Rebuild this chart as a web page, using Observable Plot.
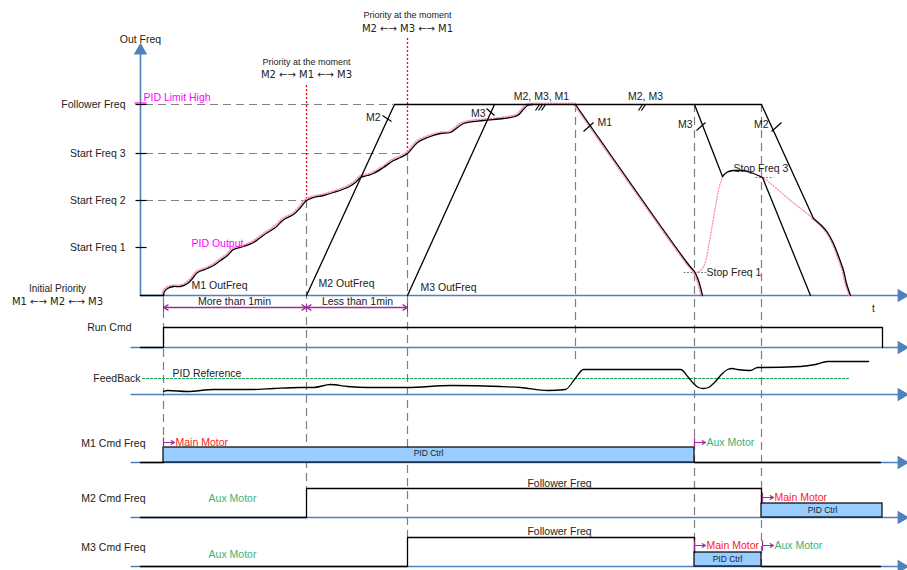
<!DOCTYPE html>
<html><head><meta charset="utf-8">
<script src="https://cdn.jsdelivr.net/npm/d3@7"></script>
<script src="https://cdn.jsdelivr.net/npm/@observablehq/plot@0.6"></script>
<style>body{margin:0;background:#fff}svg{display:block}</style>
</head><body><div id="chart"></div>
<script>
// ---- Data (time t on x, level on y; y grows downward as in the drawing) ----
const freqTickLabels = ["Follower Freq", "Start Freq 3", "Start Freq 2", "Start Freq 1"];
const freqTickValues = [104, 153, 200, 247];
const eventTimes = [163, 306, 407, 575, 694, 761];
const eventTop = [297, 200, 153, 104, 104, 104];
const eventBottom = [440, 488, 537, 362, 566, 566];
const refFreqLevels = [104, 153, 200];
const refFreqEnds = [393, 407, 306];
const laneBaselines = [347, 394, 462, 517, 566];
const laneLabels = ["Run Cmd", "FeedBack", "M1 Cmd Freq", "M2 Cmd Freq", "M3 Cmd Freq"];
const laneLabelY = [327, 378, 443, 498, 547];
const laneLabelX = [131, 140, 145, 145, 145];

// PID output = M1 OutFreq during accel
const pidRise = [[163,295],[164,291],[167,288],[173,286],[180,286],[187,283],[192,278],[197,272],[207,268],[213,265],[220,260],[227,255],[233,249],[243,246],[253,242],[260,237],[267,232],[275,227],[280,222],[285,218],[293,214],[300,207],[306,200],[313,197],[323,195],[333,192],[347,187],[355,182],[360,177],[367,175],[373,173],[383,167],[393,160],[400,157],[407,153],[417,142],[427,137],[440,133],[450,132],[463,123],[483,120],[503,118],[517,115],[522,110],[527,105],[532,104]];
const m1Decel = [[575,104],[688,264],[694,271],[698,280],[702,295]];
const pidAfterStop = [[695,272],[700,270],[704,264],[710,235],[716,200],[720,182],[724,174],[733,170],[750,172],[762,177],[790,200],[813,218]];
const m2Ramp = [[306,295],[394,104]];
const m3Ramp = [[407,295],[494,104]];
const topFlat = [[394,104],[761,104]];
const m3Decel = [[694,104],[722,176]];
const m3Hump = [[722,176],[726,172],[733,170],[742,170],[750,172],[762,177]];
const m3Final = [[762,177],[810,295]];
const m2Decel = [[761,104],[813,218]];
const m2Tail = [[813,218],[822,226],[827,232],[833,243],[837,253],[843,270],[846,283],[850,295]];
const slashes = [[382,115,391,121],[486,108,494,115],[583,131,593,122],[696,130,705,122],[771,131,781,122],
  [535,110,539,104],[538,110,542,104],[541,110,545,104],[638,110,642,104],[641,110,645,104]];

const runCmd = [[140,347],[163,347],[163,327],[882,327],[882,347]];
const feedback = [[163,391],[167,390],[187,391],[213,389],[233,389],[253,389],[273,388],[300,387],[313,387],[330,384],[347,386],[367,387],[407,387],[450,385],[500,386],[520,387],[547,390],[565,389],[574,379],[583,369],[680,369],[688,377],[693,383],[698,387],[703,388],[708,387],[714,382],[721,374],[727,369],[732,368],[737,369],[750,370],[757,367],[762,367],[800,366],[815,364],[827,361],[868,361]];
const pidReference = [[142,378],[850,378]];
const m1Low = [[[140,462],[163,462]],[[694,462],[880,462]]];
const m2Cmd = [[140,517],[306,517],[306,488],[761,488],[761,503]];
const m3Cmd = [[140,566],[407,566],[407,537],[694,537],[694,552]];
const m3Low = [[761,566],[880,566]];
const pidRects = [{t1:163,t2:694,v1:447,v2:462,cx:428,cy:453},{t1:761,t2:882,v1:503,v2:517,cx:822,cy:510},{t1:694,t2:761,v1:552,v2:566,cx:727,cy:559}];
const motorMarks = [[163,442,"Main Motor"],[694,442,"Aux Motor"],[762,497,"Main Motor"],[694,545,"Main Motor"],[762,545,"Aux Motor"]];
const durationArrows = [[234,163],[234,306],[356,306],[356,407]];
const durationLabels = [["More than 1min",234],["Less than 1min",357]];

// labels: [text, x, y, anchor, size, color]
const textLabels = [
  ["Out Freq",140,39,"middle",10.5,"#222"],
  ["PID Limit High",143,97,"start",10.5,"#ff00ff"],
  ["PID Output",191,243,"start",10.5,"#ff00ff"],
  ["M1 OutFreq",191,285,"start",10.5,"#222"],
  ["M2 OutFreq",318,283,"start",10.5,"#222"],
  ["M3 OutFreq",420,287,"start",10.5,"#222"],
  ["Initial Priority",57,288,"middle",10,"#222"],
  ["Priority at the moment",306,62,"middle",9,"#222"],
  ["Priority at the moment",407,15,"middle",9,"#222"],
  ["M2, M3, M1",541,96,"middle",10.5,"#222"],
  ["M2, M3",645,96,"middle",10.5,"#222"],
  ["M2",380,117,"end",10.5,"#222"],
  ["M3",485,113,"end",10.5,"#222"],
  ["M1",597,122,"start",10.5,"#222"],
  ["M3",692,124,"end",10.5,"#222"],
  ["M2",768,124,"end",10.5,"#222"],
  ["Stop Freq 3",733,168,"start",10.5,"#222"],
  ["Stop Freq 1",706,272,"start",10.5,"#222"],
  ["t",873,308,"middle",10,"#222"],
  ["PID Reference",172,373,"start",10.5,"#222"],
  ["Follower Freq",559,483,"middle",10.5,"#222"],
  ["Follower Freq",559,531,"middle",10.5,"#222"],
  ["Aux Motor",232,498,"middle",10.5,"#3cb371"],
  ["Aux Motor",232,554,"middle",10.5,"#3cb371"]
];
const priorityOrders = [["M1 ←→ M2 ←→ M3",57,301],["M2 ←→ M1 ←→ M3",306,74],["M2 ←→ M3 ←→ M1",407,28]];
const stopFreqMarks = [[683,706,272],[755,773,177]];

// ---- Build ----
const BLUE = "#4f81bd", GRAY = "#7f7f7f", PURPLE = "#9b2d9b", FONT = "Liberation Sans, Arial, sans-serif";
const pts = a => a.map(([t, v]) => ({t, v}));
const lineMark = (a, o = {}) => Plot.line(pts(a), {x: "t", y: "v", stroke: "#000", strokeWidth: 1.3, ...o});
const seg = (x1, x2, y1, y2) => ({x1, x2, y1, y2});
const segOpts = {x1: "x1", x2: "x2", y1: "y1", y2: "y2"};

const marks = [];
// gray dashed guides
marks.push(Plot.ruleY(refFreqLevels.map((v, i) => ({v, t2: refFreqEnds[i]})), {y: "v", x1: 145, x2: "t2", stroke: GRAY, strokeWidth: 1.2, strokeDasharray: "8,5"}));
marks.push(Plot.ruleX(eventTimes.map((t, i) => ({t, a: eventTop[i], b: eventBottom[i]})), {x: "t", y1: "a", y2: "b", stroke: GRAY, strokeWidth: 1.2, strokeDasharray: "8,5"}));
// red dotted priority markers
marks.push(Plot.ruleX([{t: 306, a: 85, b: 200}, {t: 407, a: 38, b: 153}], {x: "t", y1: "a", y2: "b", stroke: "#ff0000", strokeWidth: 1.3, strokeDasharray: "2,2"}));
// stop freq short dotted
marks.push(Plot.link(stopFreqMarks.map(([a, b, v]) => seg(a, b, v, v)), {...segOpts, stroke: GRAY, strokeDasharray: "2,1.5", strokeWidth: 1}));
// blue axes
marks.push(Plot.link([seg(140, 140, 295, 52)], {...segOpts, stroke: BLUE, strokeWidth: 1.6}));
marks.push(Plot.dot([{t: 140, v: 50}], {x: "t", y: "v", symbol: "triangle", r: 5, fill: BLUE, stroke: "none"}));
marks.push(Plot.link([seg(140, 899, 295, 295), ...laneBaselines.map(v => seg(130, 899, v, v))], {...segOpts, stroke: BLUE, strokeWidth: 1.6}));
marks.push(Plot.dot([295, ...laneBaselines].map(v => ({t: 901, v})), {x: "t", y: "v", symbol: "triangle", r: 5, rotate: 90, fill: BLUE, stroke: "none"}));
// PID ctrl rects
marks.push(Plot.rect(pidRects, {x1: "t1", x2: "t2", y1: "v1", y2: "v2", fill: "#99ccff", stroke: "#000", strokeWidth: 1.2}));
marks.push(Plot.text(pidRects, {x: "cx", y: "cy", text: () => "PID Ctrl", fontSize: 8.5, fill: "#222", fontFamily: FONT}));
// freq ticks
marks.push(Plot.link(freqTickValues.map(v => seg(135, 146, v, v)), {...segOpts, stroke: "#000", strokeWidth: 1.2}));
marks.push(Plot.link([seg(134, 146, 102.5, 102.5)], {...segOpts, stroke: "#ff00ff", strokeWidth: 1.2}));
marks.push(Plot.text(freqTickValues.map((v, i) => ({v, s: freqTickLabels[i]})), {x: 125, y: "v", text: "s", textAnchor: "end", fontSize: 10.5, fill: "#222", fontFamily: FONT}));
// PID output pink dotted (under black)
const pinkOpts = {stroke: "#ff8fc0", strokeWidth: 1.6, strokeDasharray: "1.2,1.8", curve: "catmull-rom", dx: -1.2, dy: -1.2};
marks.push(lineMark(pidRise, pinkOpts));
marks.push(lineMark([[532,104],[575,104]], {...pinkOpts, dx: 0, dy: -1.3}));
marks.push(lineMark(m1Decel, {...pinkOpts, dx: -1.5, dy: 0}));
marks.push(lineMark(pidAfterStop, {...pinkOpts, dx: 0, dy: 0, strokeWidth: 1.3}));
marks.push(lineMark(m2Tail, {...pinkOpts, dx: -1.3, dy: 0}));
// frequency curves
marks.push(lineMark([[140,295],[163,295]], {strokeWidth: 1.6}));
marks.push(lineMark(pidRise, {curve: "catmull-rom"}));
marks.push(lineMark(m1Decel, {curve: "catmull-rom"}));
marks.push(lineMark(m2Ramp));
marks.push(lineMark(m3Ramp));
marks.push(lineMark(topFlat));
marks.push(lineMark(m3Decel));
marks.push(lineMark(m3Hump, {curve: "monotone-x"}));
marks.push(lineMark(m3Final));
marks.push(lineMark(m2Decel));
marks.push(lineMark(m2Tail, {curve: "catmull-rom"}));
marks.push(Plot.link(slashes.map(([a, b, c, d]) => seg(a, c, b, d)), {...segOpts, stroke: "#000", strokeWidth: 1.2}));
// duration arrows
marks.push(Plot.arrow(durationArrows.map(([a, b]) => seg(a, b, 307, 307)), {...segOpts, stroke: PURPLE, strokeWidth: 1.3, headLength: 6}));
marks.push(Plot.link([163, 306, 407].map(t => seg(t, t, 303, 311)), {...segOpts, stroke: PURPLE, strokeWidth: 1}));
marks.push(Plot.text(durationLabels, {x: d => d[1], y: 301, text: d => d[0], fontSize: 10.5, fill: "#222", fontFamily: FONT}));
// lanes
marks.push(Plot.text(laneLabels.map((s, i) => ({s, x: laneLabelX[i], y: laneLabelY[i]})), {x: "x", y: "y", text: "s", textAnchor: "end", fontSize: 10.5, fill: "#222", fontFamily: FONT}));
marks.push(lineMark(runCmd));
marks.push(lineMark(pidReference, {stroke: "#1a9850", strokeDasharray: "2,2", strokeWidth: 1.2}));
marks.push(lineMark(feedback, {curve: "monotone-x"}));
m1Low.forEach(a => marks.push(lineMark(a)));
marks.push(lineMark(m2Cmd));
marks.push(lineMark(m3Cmd));
marks.push(lineMark(m3Low));
// motor role markers
marks.push(Plot.link(motorMarks.map(([t, v]) => seg(t, t, v - 5, v + 5)), {...segOpts, stroke: PURPLE, strokeWidth: 1.2}));
marks.push(Plot.arrow(motorMarks.map(([t, v]) => seg(t, t + 11, v, v)), {...segOpts, stroke: PURPLE, strokeWidth: 1.2, headLength: 5}));
marks.push(Plot.text(motorMarks, {x: d => d[0] + 12, y: d => d[1], text: d => d[2], textAnchor: "start", fontSize: 10.5, fill: d => d[2] === "Main Motor" ? "#ff2020" : "#3cb371", fontFamily: FONT}));
// other labels, grouped by anchor
for (const anchor of ["start", "middle", "end"]) {
  marks.push(Plot.text(textLabels.filter(d => d[3] === anchor), {x: d => d[1], y: d => d[2], text: d => d[0], textAnchor: anchor, fontSize: d => d[4], fill: d => d[5], fontFamily: FONT}));
}
marks.push(Plot.text(priorityOrders, {x: d => d[1], y: d => d[2], text: d => d[0], fontSize: 10, fill: "#222", fontFamily: "DejaVu Sans, sans-serif"}));

const chart = Plot.plot({
  width: 907, height: 570,
  marginTop: 0, marginRight: 0, marginBottom: 0, marginLeft: 0,
  x: {domain: [0, 907], range: [0, 907], axis: null},
  y: {domain: [0, 570], range: [0, 570], axis: null},
  style: {fontFamily: FONT, background: "#fff"},
  marks
});
document.getElementById("chart").appendChild(chart);
</script>
</body></html>
